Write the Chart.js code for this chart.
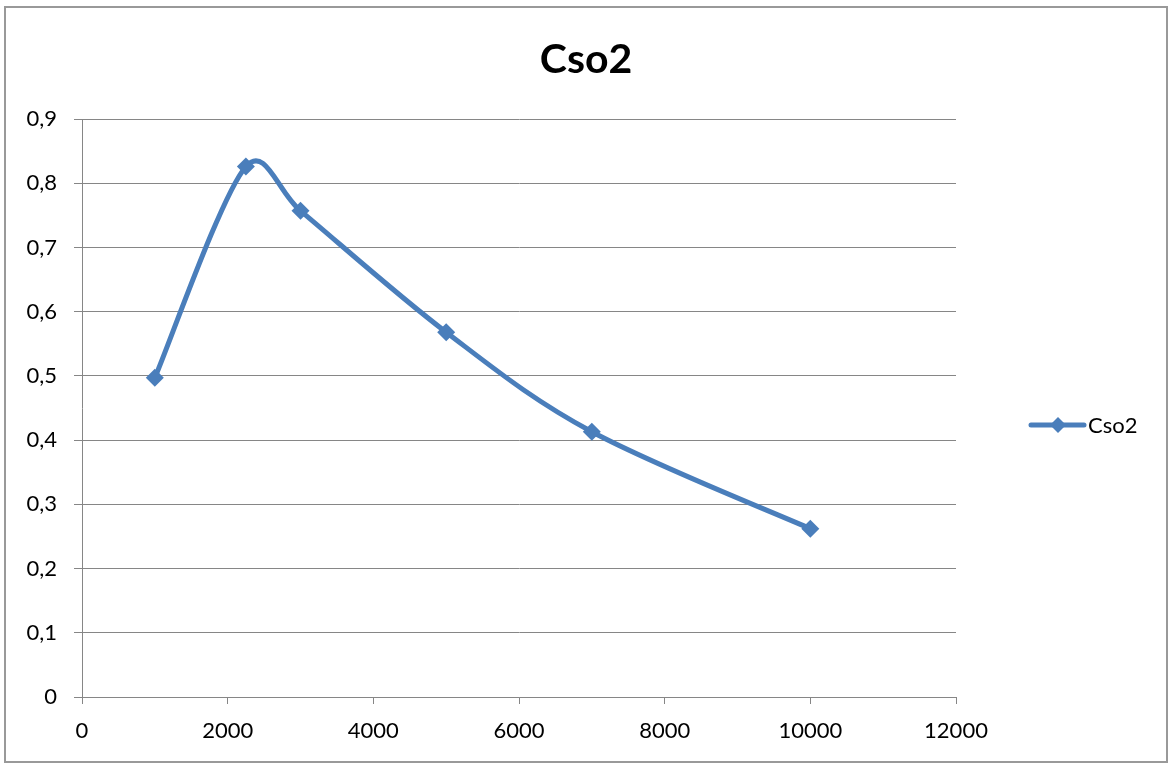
<!DOCTYPE html>
<html>
<head>
<meta charset="utf-8">
<script src="https://cdn.jsdelivr.net/npm/chart.js@4/dist/chart.umd.min.js"></script>
<style>
  html, body { margin: 0; padding: 0; background: #fff; }
  #wrap { width: 1169px; height: 765px; }
</style>
</head>
<body>
<div id="wrap"><canvas id="c" width="1169" height="765"></canvas></div>
<script>
const titleText = 'Cso2';
const seriesLabel = 'Cso2';
const xValues = [1000, 2250, 3000, 5000, 7000, 10000];
const yValues = [0.497, 0.826, 0.757, 0.568, 0.413, 0.262];
const xTicks = [0, 2000, 4000, 6000, 8000, 10000, 12000];
const yTicks = [0, 0.1, 0.2, 0.3, 0.4, 0.5, 0.6, 0.7, 0.8, 0.9];

const lineColor = '#4A7EBB';
const gridColor = '#868686';
const fontFamily = 'Lato, "Open Sans", sans-serif';

const points = xValues.map((x, i) => ({ x: x, y: yValues[i] }));

// Excel-style smoothing: Catmull-Rom tangents (1/6) computed on the
// pixel positions that Chart.js has placed through its scales,
// with each handle limited relative to the adjacent segment.
const excelSmooth = {
  id: 'excelSmooth',
  beforeDatasetsDraw(chart) {
    const K = 0.42;
    chart.data.datasets.forEach((ds, di) => {
      const meta = chart.getDatasetMeta(di);
      const pts = meta.data;
      const n = pts.length;
      for (let i = 0; i < n; i++) {
        const p = pts[i];
        const prev = pts[Math.max(0, i - 1)];
        const next = pts[Math.min(n - 1, i + 1)];
        const tx = (next.x - prev.x) / 6;
        const ty = (next.y - prev.y) / 6;
        const tl = Math.hypot(tx, ty) || 1;
        const dPrev = Math.hypot(p.x - prev.x, p.y - prev.y);
        const dNext = Math.hypot(next.x - p.x, next.y - p.y);
        const sPrev = Math.min(1, (K * dPrev) / tl);
        const sNext = Math.min(1, (K * dNext) / tl);
        p.cp1x = p.x - tx * sPrev; p.cp1y = p.y - ty * sPrev;
        p.cp2x = p.x + tx * sNext; p.cp2y = p.y + ty * sNext;
      }
      if (meta.dataset) meta.dataset._pointsUpdated = true;
    });
  }
};

const decor = {
  id: 'decor',
  afterDraw(chart) {
    const ctx = chart.ctx;
    ctx.save();
    // outer frame
    ctx.strokeStyle = '#999999';
    ctx.lineWidth = 2;
    ctx.strokeRect(5, 7, 1162, 755);
    // title
    ctx.fillStyle = '#000';
    ctx.font = 'bold 41px ' + fontFamily;
    ctx.textAlign = 'center';
    ctx.textBaseline = 'middle';
    ctx.fillText(titleText, 586, 60);
    // legend
    const ds = chart.data.datasets[0];
    const ly = 425;
    ctx.strokeStyle = ds.borderColor;
    ctx.lineWidth = 5;
    ctx.lineCap = 'round';
    ctx.beginPath();
    ctx.moveTo(1031, ly);
    ctx.lineTo(1084, ly);
    ctx.stroke();
    ctx.fillStyle = ds.backgroundColor;
    const r = 8;
    ctx.beginPath();
    ctx.moveTo(1058, ly - r);
    ctx.lineTo(1058 + r, ly);
    ctx.lineTo(1058, ly + r);
    ctx.lineTo(1058 - r, ly);
    ctx.closePath();
    ctx.fill();
    ctx.fillStyle = '#000';
    ctx.font = '22px ' + fontFamily;
    ctx.textAlign = 'left';
    ctx.fillText(ds.label, 1088, ly + 1);
    ctx.restore();
  }
};

new Chart(document.getElementById('c'), {
  type: 'scatter',
  data: {
    datasets: [{
      label: seriesLabel,
      data: points,
      showLine: true,
      borderColor: lineColor,
      backgroundColor: lineColor,
      borderWidth: 5,
      tension: 0.5,
      pointStyle: 'rectRot',
      pointRadius: 9,
      pointHoverRadius: 9,
      pointBorderWidth: 0
    }]
  },
  options: {
    responsive: false,
    animation: false,
    events: [],
    layout: { padding: { left: 5, right: 213, top: 119, bottom: 0 } },
    plugins: {
      legend: { display: false },
      title: { display: false },
      tooltip: { enabled: false }
    },
    scales: {
      x: {
        type: 'linear',
        min: 0, max: 12000,
        afterBuildTicks: (s) => { s.ticks = xTicks.map(v => ({ value: v })); },
        afterFit: (s) => { s.height = 68; },
        border: { display: true, color: gridColor, width: 1 },
        grid: { drawOnChartArea: false, drawTicks: true, tickLength: 7, color: gridColor },
        ticks: {
          color: '#000',
          font: { family: fontFamily, size: 22 },
          padding: 14,
          maxRotation: 0,
          callback: (v) => String(v)
        }
      },
      y: {
        type: 'linear',
        min: 0, max: 0.9,
        afterBuildTicks: (s) => { s.ticks = yTicks.map(v => ({ value: v })); },
        afterFit: (s) => { s.width = 77; },
        border: { display: true, color: gridColor, width: 1 },
        grid: { drawOnChartArea: true, drawTicks: true, tickLength: 8, color: gridColor, lineWidth: 1 },
        ticks: {
          color: '#000',
          font: { family: fontFamily, size: 22 },
          padding: 17,
          callback: (v) => (Math.round(v * 10) / 10).toString().replace('.', ',')
        }
      }
    }
  },
  plugins: [excelSmooth, decor]
});
</script>
</body>
</html>
